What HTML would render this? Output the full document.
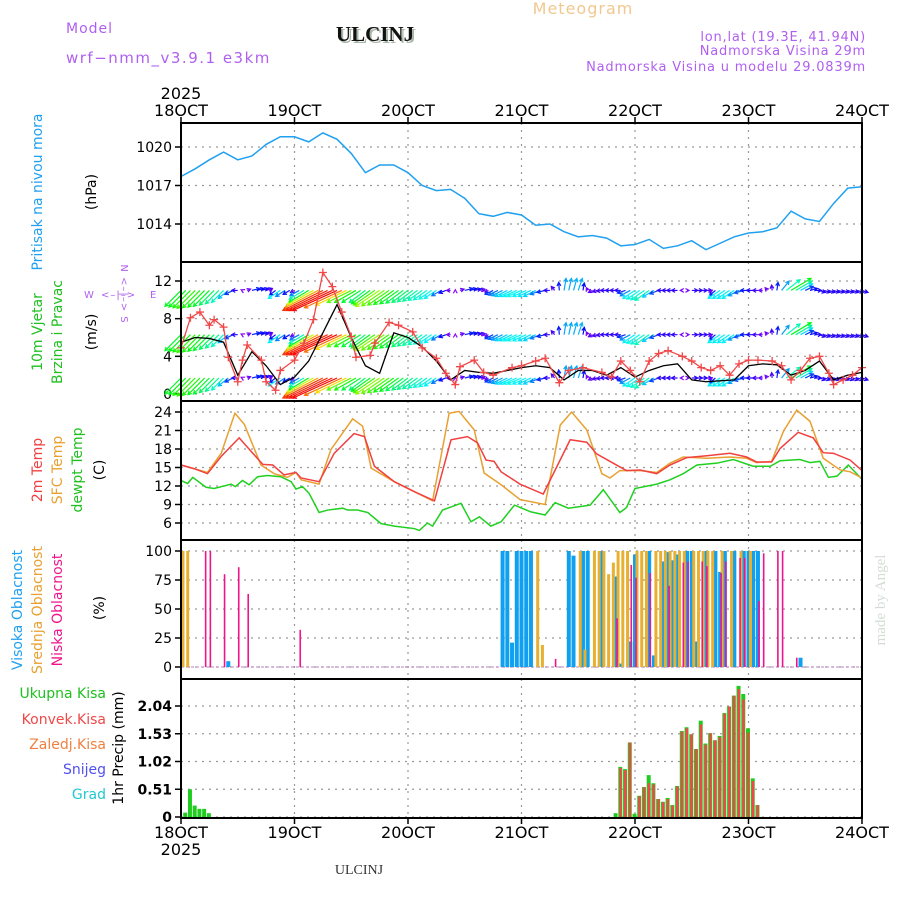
<!DOCTYPE html>
<html><head><meta charset="utf-8">
<style>
html,body{margin:0;padding:0;background:#fff;}
svg{display:block;font-family:"DejaVu Sans","Liberation Sans",sans-serif;}
</style></head>
<body>
<svg id="chart" width="900" height="900" viewBox="0 0 900 900" xmlns="http://www.w3.org/2000/svg">
<g>
<text x="66" y="33" font-size="14" fill="#b060f0" letter-spacing="1">Model</text>
<text x="66" y="63" font-size="15" fill="#b060f0" letter-spacing="1.5">wrf−nmm_v3.9.1 e3km</text>
<text x="377" y="43" font-size="21" font-weight="bold" font-family="Liberation Serif,serif" fill="#a8b8a8" text-anchor="middle">ULCINJ</text>
<text x="375" y="41" font-size="21" font-weight="bold" font-family="Liberation Serif,serif" fill="#111" text-anchor="middle">ULCINJ</text>
<text x="583" y="14" font-size="16" fill="#f0c890" text-anchor="middle" letter-spacing="1">Meteogram</text>
<text x="866" y="41" font-size="13" fill="#b060f0" text-anchor="end" letter-spacing="0.8">lon,lat (19.3E, 41.94N)</text>
<text x="866" y="55" font-size="13" fill="#b060f0" text-anchor="end" letter-spacing="0.8">Nadmorska Visina 29m</text>
<text x="866" y="71" font-size="13" fill="#b060f0" text-anchor="end" letter-spacing="0.8">Nadmorska Visina u modelu 29.0839m</text>
</g>
<g>
<text transform="translate(42,192) rotate(-90)" font-size="14" fill="#20a0f0" text-anchor="middle">Pritisak na nivou mora</text>
<text transform="translate(96,192) rotate(-90)" font-size="14" fill="#000" text-anchor="middle">(hPa)</text>
<text transform="translate(42,332) rotate(-90)" font-size="14" fill="#20c020" text-anchor="middle">10m Vjetar</text>
<text transform="translate(62,332) rotate(-90)" font-size="14" fill="#20c020" text-anchor="middle">Brzina i Pravac</text>
<text transform="translate(96,332) rotate(-90)" font-size="14" fill="#000" text-anchor="middle">(m/s)</text>
<g fill="#b060f0" font-size="10">
<text x="84" y="298">W</text>
<text x="101" y="298" letter-spacing="1">&lt;–|–&gt;</text>
<text x="150" y="298">E</text>
<text transform="translate(121,294) rotate(90)" text-anchor="middle" letter-spacing="1">N &lt;–|–&gt; S</text>
</g>
<text transform="translate(42,470) rotate(-90)" font-size="14" fill="#f04040" text-anchor="middle">2m Temp</text>
<text transform="translate(62,470) rotate(-90)" font-size="14" fill="#e8a030" text-anchor="middle">SFC Temp</text>
<text transform="translate(82,470) rotate(-90)" font-size="14" fill="#20c020" text-anchor="middle">dewpt Temp</text>
<text transform="translate(104,470) rotate(-90)" font-size="14" fill="#000" text-anchor="middle">(C)</text>
<text transform="translate(22,610) rotate(-90)" font-size="14" fill="#20a0f0" text-anchor="middle">Visoka Oblacnost</text>
<text transform="translate(42,610) rotate(-90)" font-size="14" fill="#e8a030" text-anchor="middle">Srednja Oblacnost</text>
<text transform="translate(62,610) rotate(-90)" font-size="14" fill="#f0148c" text-anchor="middle">Niska Oblacnost</text>
<text transform="translate(104,608) rotate(-90)" font-size="14" fill="#000" text-anchor="middle">(%)</text>
<text x="106" y="698" font-size="14" fill="#20c020" text-anchor="end">Ukupna Kisa</text>
<text x="106" y="724" font-size="14" fill="#f04848" text-anchor="end">Konvek.Kisa</text>
<text x="106" y="749" font-size="14" fill="#f08040" text-anchor="end">Zaledj.Kisa</text>
<text x="106" y="774" font-size="14" fill="#5050f0" text-anchor="end">Snijeg</text>
<text x="106" y="799" font-size="14" fill="#20c8d0" text-anchor="end">Grad</text>
<text transform="translate(123,748) rotate(-90)" font-size="14" fill="#000" text-anchor="middle">1hr Precip (mm)</text>
</g>
<text transform="translate(885,600) rotate(-90)" font-size="15" font-family="Liberation Serif,serif" fill="#d4ddd4" text-anchor="middle">made by Angel</text>
<text x="359" y="874" font-size="14" font-family="Liberation Serif,serif" fill="#333" text-anchor="middle">ULCINJ</text>
<g id="plots"></g>
</svg>
<script>
// ---------- data ----------
const dayLabels = ["18OCT","19OCT","20OCT","21OCT","22OCT","23OCT","24OCT"];
const pressTicks = [1014,1017,1020];
const windTicks = [0,4,8,12];
const tempTicks = [6,9,12,15,18,21,24];
const cloudTicks = [0,25,50,75,100];
const precipTicks = [0,0.51,1.02,1.53,2.04];

const pressure = [1017.7,1018.3,1019.0,1019.6,1019.0,1019.3,1020.2,1020.8,1020.8,1020.4,1021.1,1020.6,1019.5,1018.0,1018.6,1018.6,1018.0,1017.0,1016.6,1016.7,1016.0,1014.8,1014.6,1014.9,1014.7,1013.9,1014.0,1013.4,1013.0,1013.1,1012.9,1012.3,1012.4,1012.8,1012.1,1012.3,1012.7,1012.0,1012.5,1013.0,1013.3,1013.4,1013.7,1015.0,1014.4,1014.2,1015.6,1016.8,1016.9];

const windHours = [0,2,4,6,7,9,10,12,13,14,17,18,20,21,24,26,28,30,32,34,36,37,40,41,44,46,49,51,54,56,58,59,62,64,66,70,72,75,77,80,82,85,89,91,93,95,97,99,101,103,106,108,110,112,114,116,118,120,122,125,127,129,131,133,135,137,138,140,142,144];
const windSpeed = [4.9,8.1,8.7,7.3,7.9,7.1,3.9,1.3,3.6,5.2,3.6,1.3,0.4,2.5,3.6,5.4,7.9,12.9,11.4,8.7,6.1,3.9,4.1,5.4,7.6,7.3,6.6,4.9,3.8,2.2,1.0,2.9,3.6,2.3,2.0,2.8,3.0,3.5,3.8,1.2,2.5,2.8,2.3,1.8,3.5,2.5,1.3,3.5,4.3,4.6,4.0,3.5,2.8,2.5,3.0,2.0,3.2,3.6,3.6,3.5,3.0,1.5,2.5,3.8,4.0,2.2,1.0,1.5,2.0,2.8];
const meanHours = [0,3,6,9,12,15,18,21,24,27,30,33,36,39,42,45,48,51,54,57,60,63,66,69,72,75,78,81,84,87,90,93,96,99,102,105,108,111,114,117,120,123,126,129,132,135,138,141,144];
const meanSpeed = [5.5,6.0,5.9,5.5,2.0,4.5,3.0,1.0,1.8,3.5,6.5,9.5,6.0,3.0,2.2,6.5,6.0,5.0,3.5,1.5,2.5,2.3,2.2,2.5,2.8,3.0,2.8,1.5,2.5,2.5,2.0,2.8,1.8,2.5,3.0,3.2,1.5,1.3,1.4,1.5,3.0,3.2,3.1,2.0,2.5,3.5,1.5,2.0,2.3];
const windU = [-4,-4.5,-4,-3,-1.5,2,1.5,-3,-1,-5,-10,-11,-6,-4,-6,-5,-4,-3.5,-3,-1,2,1.5,-2,-3,-3.5,-3,-1.5,0.5,1,-1,-1.5,-1.5,-3,-3.5,-1.5,-1.5,1.5,1.5,-3,-3,-2,-1,0.3,5,2,1.5,1.5,1.5,1.5];
const windV = [-4,-4.5,-4,-3,0,0.5,0.5,-2,-0.5,-3,-5,-5,-3,-3,-4,-3.5,-3,-2.5,-2,0,0.5,0.3,-1,-1.5,-1.5,-1.5,0,3,3,-0.5,0,0,-2,-2.5,0,0,0,0,-2,-2,0,0,2,3,1,-0.5,-0.5,-0.5,-0.5];
const windRows = [11.0,6.3,1.7];

const t2Hours = [0,2.8,5.6,8.5,12.3,15.2,17.3,19.4,21.8,24.3,25.4,29.2,32.4,36.6,38.8,40.9,45.1,49.3,53.6,57.1,60.6,62.7,64.5,66.2,67.7,71.7,76.6,82.3,85.8,87.9,92.1,94.2,97.1,100.6,103.4,106.9,111.2,116.1,119.6,121.7,124.9,126.7,130.5,133.7,135.8,138,141.5,144];
const t2Temp = [15.4,14.8,14.0,16.8,19.8,17.3,15.5,15.4,13.8,14.2,13.3,12.7,17.3,20.5,20.0,15.2,12.7,11.1,9.6,19.5,20.0,19.0,16.2,16.0,14.3,12.3,10.7,19.5,19.1,17.2,15.4,14.5,14.6,14.0,15.4,16.6,16.9,17.3,16.7,15.9,15.9,18.1,20.7,19.8,17.4,17.3,16.2,14.5];
const sfcHours = [0,5.6,8.5,11.4,13.4,16.9,19.7,22.5,24.3,25.4,29.2,31.7,36.3,38.4,40.2,45.1,49.3,53.2,56.7,58.8,62,64.1,67.7,71.7,77,80.2,82.6,85.8,89,90.7,92.8,97.1,100.6,103.4,106.2,111.2,116.1,119.6,121.7,124.9,127.4,130.2,133,135.8,139.4,141.5,144];
const sfcTemp = [15.4,14.2,17.3,23.8,22.0,15.4,14.0,13.4,14.2,13.0,12.3,17.9,22.9,21.7,14.9,12.7,11.1,9.6,23.8,24.1,21.1,14.1,12.2,9.8,9.0,21.9,24.0,21.1,14.0,13.3,14.5,14.5,14.2,15.7,16.7,16.5,16.7,16.5,15.8,16.0,20.9,24.3,22.5,16.5,14.6,14.3,13.3];
const dewHours = [0,1.4,2.5,5.3,7,10.6,11.5,13,14.4,16.2,18.3,21.1,23.3,24.3,25.7,27.1,29.2,31,34.2,35.2,37.3,39.5,42.3,45.1,49.3,50.4,52.1,53.2,55.3,59.2,61.3,63.1,65.5,67.7,70.5,74,77,79.1,81.9,86.5,89.3,92.8,94.2,96,100.6,103.4,106.2,109.1,113.3,116.8,121,124.6,126.7,130.9,133,135.1,136.9,138.7,141.1,144];
const dewTemp = [12.9,12.4,13.4,11.8,11.6,12.3,11.9,12.9,12.2,13.5,13.7,13.5,12.7,11.5,11.9,10.8,7.7,8.1,8.4,8.1,8.1,7.7,5.9,5.5,5.1,4.8,6.0,5.5,8.1,9.2,6.2,7.0,5.5,6.2,8.9,7.8,7.3,9.3,8.4,8.9,11.4,7.7,8.5,11.6,12.3,13.0,14.0,15.4,15.7,16.3,15.2,15.2,16.1,16.3,15.8,16.0,13.4,13.6,15.4,13.1];

const highHours = [10,68,69,70,71,72,73,74,82,83,85,86,89,92,93,95,96,99,100,102,103,104,105,107,108,109,111,113,114,115,117,119,120,121,122,131];
const highCloud = [5,100,100,21,100,100,100,100,100,96,100,100,100,78,3,22,97,100,10,91,99,92,97,100,100,22,100,100,82,100,100,100,100,100,100,8];
const midHours = [0,1,75,76,84,85,87,88,89,90,91,92,93,94,96,97,98,100,101,102,103,104,105,106,108,109,110,111,112,114,116,118,120];
const midCloud = [100,100,100,19,100,15,100,100,100,80,90,100,100,100,100,100,100,100,100,100,100,100,100,100,100,100,100,100,100,100,100,100,100];
const lowHours = [5,6,9,12,14,25,79,92,95,96,99,103,106,107,110,111,114,115,118,119,122,123,126,127,130];
const lowCloud = [100,100,80,86,63,32,7,42,88,77,81,70,90,91,91,87,81,91,94,94,57,98,100,100,8];

const precipHours = [1,2,3,4,5,6,92,93,94,95,96,97,98,99,100,101,102,103,104,105,106,107,108,109,110,111,112,113,114,115,116,117,118,119,120,121,122];
const totalPrecip = [0.08,0.51,0.21,0.15,0.15,0.07,0.07,0.92,0.88,1.37,0.06,0.39,0.55,0.77,0.62,0.33,0.28,0.35,0.22,0.57,1.58,1.65,1.52,1.25,1.77,1.35,1.54,1.41,1.49,1.91,2.03,2.23,2.41,2.26,1.63,0.71,0.22];
const convPrecip = [0,0,0,0,0,0,0,0.90,0.86,1.37,0,0.38,0.55,0.62,0.60,0.33,0.27,0.33,0.21,0.56,1.57,1.63,1.52,1.25,1.70,1.33,1.54,1.41,1.47,1.90,2.03,2.23,2.35,2.16,1.55,0.66,0.22];

// ---------- scales ----------
const X0=181, X1=862, HMAX=144;
const X = h => X0 + h*(X1-X0)/HMAX;
const yP = v => 147 + (1020-v)*(224-147)/6;
const yW = v => 394 - v*(394-281)/12;
const yT = v => 412 + (24-v)*(523-412)/18;
const yC = v => 667 - v*(667-551)/100;
const yR = v => 817 - v*(817-706)/2.04;
const panels = [[123,262],[262,401],[401,540],[540,679],[679,818]];

const NS="http://www.w3.org/2000/svg";
const root=document.getElementById('plots');
function mk(tag, attrs, parent){
  const e=document.createElementNS(NS,tag);
  for(const k in attrs) e.setAttribute(k,attrs[k]);
  (parent||root).appendChild(e);
  return e;
}
function group(name){
  const g=mk('g',{});
  
  
  return g;
}

// grid
const grid=group('grid');
panels.forEach(([t,b])=>{
  for(let d=1; d<6; d++){
    const l=mk('line',{x1:X(d*24),x2:X(d*24),y1:t,y2:b,stroke:'#999','stroke-width':1.2,'stroke-dasharray':'2,5'},grid);
    
    
  }
});
function hgrid(ticks, sc, fmt, bold){
  const ax=group('y-axis');
  ticks.forEach(v=>{
    const y=sc(v);
    const l=mk('line',{x1:X0,x2:X1,y1:y,y2:y,stroke:'#999','stroke-width':1.2,'stroke-dasharray':'2,5'},grid);
    
    
    mk('line',{x1:X0-6,x2:X0,y1:y,y2:y,stroke:'#000','stroke-width':1.5},ax);
    const t=mk('text',{x:X0-9,y:y+5,'text-anchor':'end','font-size':14,fill:'#000','font-weight':bold?'bold':'normal'},ax);
    t.textContent=fmt(v);
    
    
  });
}
hgrid(pressTicks,yP,v=>v);
hgrid(windTicks,yW,v=>v);
hgrid(tempTicks,yT,v=>v);
hgrid(cloudTicks,yC,v=>v);
hgrid(precipTicks,yR,v=>v===0?'0':v.toFixed(2),true);

// pressure
const pg=group('pressure-series');
const pl=mk('polyline',{points:pressure.map((v,i)=>X(i*3)+','+yP(v)).join(' '),fill:'none',stroke:'#20a0f0','stroke-width':1.5},pg);



// wind arrows
function hueFor(s){
  const pts=[[0,275],[1,265],[2,235],[3.5,185],[6,120],[8,60],[12,0]];
  if(s>=12) return 0;
  for(let i=1;i<pts.length;i++){ if(s<=pts[i][0]){const a=pts[i-1],b=pts[i];return a[1]+(s-a[0])/(b[0]-a[0])*(b[1]-a[1]);} }
  return 0;
}
const wg=group('wind-arrows');
windRows.forEach(rv=>{
  const by=yW(rv);
  for(let h=0; h<=HMAX; h++){
    const i=Math.min(Math.floor(h/3),windU.length-2), f=(h-i*3)/3;
    const u=windU[i]+(windU[i+1]-windU[i])*f, v=windV[i]+(windV[i+1]-windV[i])*f;
    const s=Math.hypot(u,v);
    if(s<0.1) continue;
    const k=4, x1=X(h), y1=by, x2=x1+u*k, y2=by-v*k;
    const col='hsl('+hueFor(s)+',95%,50%)';
    const ang=Math.atan2(y2-y1,x2-x1), hl=4;
    const d='M'+x1+','+y1+'L'+x2+','+y2+'M'+(x2-hl*Math.cos(ang-0.5))+','+(y2-hl*Math.sin(ang-0.5))+'L'+x2+','+y2+'L'+(x2-hl*Math.cos(ang+0.5))+','+(y2-hl*Math.sin(ang+0.5));
    const a=mk('path',{d:d,stroke:col,'stroke-width':1.2,fill:'none'},wg);
    
    
  }
});
// wind speed
const sg=group('wind-speed-series');
const ml=mk('polyline',{points:meanHours.map((h,i)=>X(h)+','+yW(meanSpeed[i])).join(' '),fill:'none',stroke:'#000','stroke-width':1.3},sg);


const rl=mk('polyline',{points:windHours.map((h,i)=>X(h)+','+yW(windSpeed[i])).join(' '),fill:'none',stroke:'#f04848','stroke-width':1.3},sg);


windHours.forEach((h,i)=>{
  const x=X(h), y=yW(windSpeed[i]);
  const m=mk('path',{d:'M'+(x-4)+','+y+'h8M'+x+','+(y-4)+'v8',stroke:'#f04848','stroke-width':1.3},sg);
  
  
});

// temperatures
function tline(hs,vs,col,name){
  const l=mk('polyline',{points:hs.map((h,i)=>X(h)+','+yT(vs[i])).join(' '),fill:'none',stroke:col,'stroke-width':1.5});
  
  
}
tline(dewHours,dewTemp,'#20d020','dewpoint-line');
tline(sfcHours,sfcTemp,'#e8a030','sfc-temp-line');
tline(t2Hours,t2Temp,'#f04040','t2m-line');

// clouds
const cg=group('cloud-bars');
const base=mk('line',{x1:X0,x2:X1,y1:yC(0),y2:yC(0),stroke:'#c080c0','stroke-width':1,'stroke-dasharray':'3,2'},cg);


function cbars(hs,vs,col,w,off,name){
  hs.forEach((h,i)=>{
    const y=yC(vs[i]);
    const r=mk('rect',{x:X(h)-w/2+off,y:y,width:w,height:yC(0)-y,fill:col},cg);
    
    
  });
}
cbars(highHours,highCloud,'#10a0f0',4,0,'high-cloud-bar');
cbars(midHours,midCloud,'#e8b030',3,2,'mid-cloud-bar');
cbars(lowHours,lowCloud,'#f0148c',1.6,1,'low-cloud-bar');

// precip
const rg=group('precip-bars');
precipHours.forEach((h,i)=>{
  const y=yR(totalPrecip[i]);
  const g=mk('rect',{x:X(h)-2.5,y:y,width:4,height:yR(0)-y,fill:'#20cc20'},rg);
  
  
  if(convPrecip[i]>0){
    const yc=yR(convPrecip[i]);
    const r=mk('rect',{x:X(h)-1.5,y:yc,width:2.5,height:yR(0)-yc,fill:'#f04848'},rg);
    
    
  }
});

// frames & x axes
const fg=group('frames');
panels.forEach(([t,b])=>{
  const r=mk('rect',{x:X0,y:t,width:X1-X0,height:b-t,fill:'none',stroke:'#000','stroke-width':2},fg);
  
  
});
const xg=group('x-axis');
dayLabels.forEach((lab,d)=>{
  const x=X(d*24);
  mk('line',{x1:x,x2:x,y1:117,y2:123,stroke:'#000','stroke-width':1.5},xg);
  mk('line',{x1:x,x2:x,y1:818,y2:824,stroke:'#000','stroke-width':1.5},xg);
  const t1=mk('text',{x:x,y:116,'text-anchor':'middle','font-size':16,fill:'#000'},xg);
  t1.textContent=lab;
  
  
  const t2=mk('text',{x:x,y:838,'text-anchor':'middle','font-size':16,fill:'#000'},xg);
  t2.textContent=lab;
  
  
});
const y1=mk('text',{x:X0,y:99,'text-anchor':'middle','font-size':16,fill:'#000'},xg);
y1.textContent='2025';


const y2=mk('text',{x:X0,y:855,'text-anchor':'middle','font-size':16,fill:'#000'},xg);
y2.textContent='2025';


</script>
</body></html>
